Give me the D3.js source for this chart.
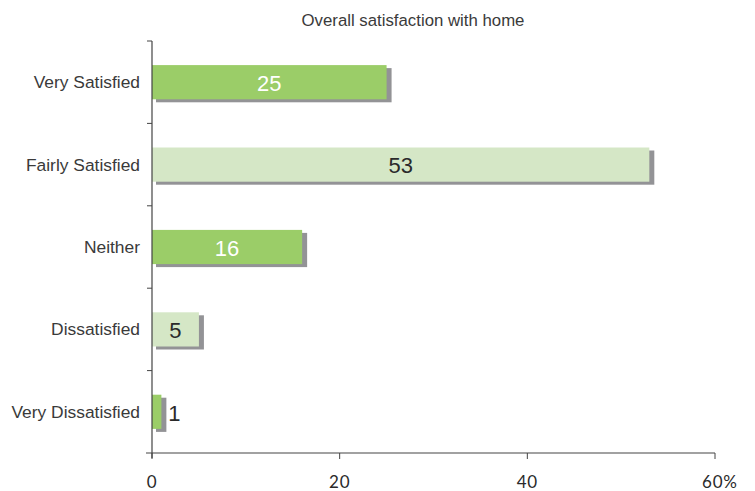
<!DOCTYPE html>
<html>
<head>
<meta charset="utf-8">
<script src="https://cdn.jsdelivr.net/npm/d3@7"></script>
<style>
  body { margin: 0; background: #fff; }
  text { font-family: 'Liberation Sans', Arial, sans-serif; }
</style>
</head>
<body>
<div class="chart"></div>
<script>
const categories = ['Very Satisfied', 'Fairly Satisfied', 'Neither', 'Dissatisfied', 'Very Dissatisfied'];
const values = [25, 53, 16, 5, 1];
const tickValues = [0, 20, 40, 60];
const tickLabels = ['0', '20', '40', '60%'];

const width = 755;
const height = 491;
const margin = { top: 41, right: 40, bottom: 38, left: 152 };

const svg = d3.select('.chart')
  .append('svg')
  .attr('width', width)
  .attr('height', height);

const x = d3.scaleLinear().domain([0, 60]).range([margin.left, 715]);
const y = d3.scaleBand().domain(categories).range([margin.top, height - margin.bottom]).padding(0);

const barH = y.bandwidth() * 0.415;
const colors = ['#9bcd68', '#d5e7c6'];

svg.append('text')
  .attr('x', 413)
  .attr('y', 26)
  .attr('text-anchor', 'middle')
  .style('font-size', '16.8px')
  .attr('fill', '#3a3a3a')
  .text('Overall satisfaction with home');

// shadows
svg.selectAll('rect.shadow')
  .data(values)
  .enter()
  .append('rect')
  .attr('class', 'shadow')
  .attr('x', x(0) + 4)
  .attr('y', (d, i) => y(categories[i]) + (y.bandwidth() - barH) / 2 + 3)
  .attr('width', (d) => x(d) - x(0) + 1)
  .attr('height', barH)
  .attr('fill', '#939396');

svg.selectAll('rect.bar')
  .data(values)
  .enter()
  .append('rect')
  .attr('class', 'bar')
  .attr('x', x(0))
  .attr('y', (d, i) => y(categories[i]) + (y.bandwidth() - barH) / 2)
  .attr('width', (d) => x(d) - x(0))
  .attr('height', barH)
  .attr('fill', (d, i) => colors[i % 2]);

const fits = (d) => x(d) - x(0) > 30;

svg.selectAll('text.value')
  .data(values)
  .enter()
  .append('text')
  .attr('class', 'value')
  .attr('x', (d) => (fits(d) ? (x(0) + x(d)) / 2 : x(d) + 13))
  .attr('y', (d, i) => y(categories[i]) + y.bandwidth() / 2 + 1)
  .attr('dy', '0.35em')
  .attr('text-anchor', 'middle')
  .style('font-size', '22px')
  .attr('fill', (d, i) => (i % 2 === 0 && fits(d) ? '#fff' : '#2a2a2a'))
  .text((d) => d);

// category labels
svg.selectAll('text.cat')
  .data(categories)
  .enter()
  .append('text')
  .attr('class', 'cat')
  .attr('x', 140)
  .attr('y', (d) => y(d) + y.bandwidth() / 2)
  .attr('dy', '0.35em')
  .attr('text-anchor', 'end')
  .style('font-size', '17.4px')
  .attr('fill', '#3a3a3a')
  .text((d) => d);

// axes
const axisColor = '#444';
const bottom = height - margin.bottom;
svg.append('line')
  .attr('x1', x(0)).attr('x2', x(0))
  .attr('y1', margin.top).attr('y2', bottom + 5)
  .attr('stroke', axisColor).attr('stroke-width', 1.2);
svg.append('line')
  .attr('x1', x(0) - 6).attr('x2', x(60))
  .attr('y1', bottom).attr('y2', bottom)
  .attr('stroke', axisColor).attr('stroke-width', 1.2);

const yTicks = categories.map((c) => y(c));
svg.selectAll('line.ytick')
  .data(yTicks)
  .enter()
  .append('line')
  .attr('class', 'ytick')
  .attr('x1', x(0) - 5).attr('x2', x(0))
  .attr('y1', (d) => d).attr('y2', (d) => d)
  .attr('stroke', axisColor);

svg.selectAll('line.xtick')
  .data(tickValues)
  .enter()
  .append('line')
  .attr('class', 'xtick')
  .attr('x1', (d) => x(d)).attr('x2', (d) => x(d))
  .attr('y1', bottom).attr('y2', bottom + 6)
  .attr('stroke', axisColor);

svg.selectAll('text.xlabel')
  .data(tickValues)
  .enter()
  .append('text')
  .attr('class', 'xlabel')
  .attr('x', (d) => x(d))
  .attr('y', bottom + 35)
  .attr('text-anchor', (d, i) => (i === tickValues.length - 1 ? 'start' : 'middle'))
  .attr('dx', (d, i) => (i === tickValues.length - 1 ? -13 : 0))
  .style('font-family', 'Lato, sans-serif')
  .style('font-size', '17px')
  .style('letter-spacing', '0.8px')
  .attr('fill', '#2a2a2a')
  .text((d, i) => tickLabels[i]);
</script>
</body>
</html>
